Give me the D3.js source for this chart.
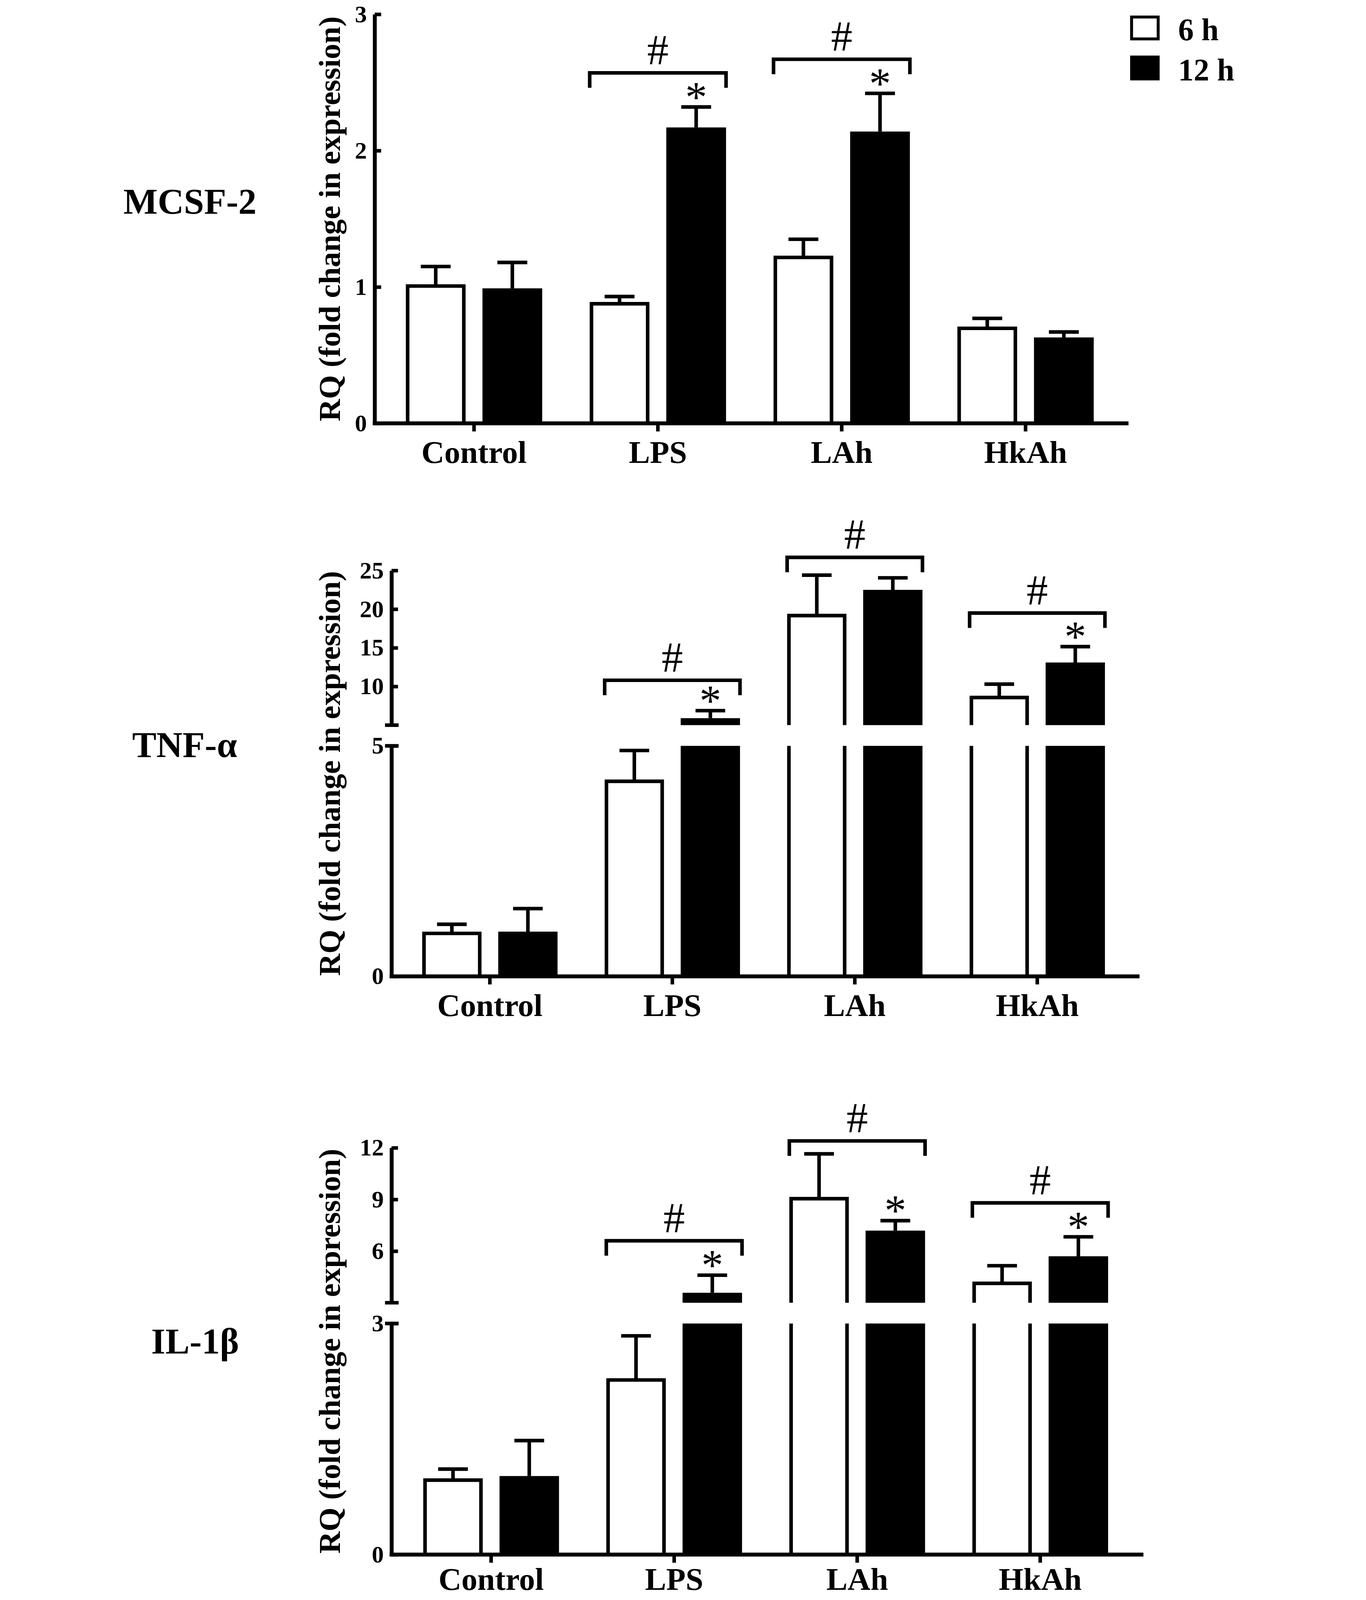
<!DOCTYPE html>
<html>
<head>
<meta charset="utf-8">
<script src="https://cdn.jsdelivr.net/npm/d3@7"></script>
<style>
html,body{
margin:0;
padding:0;
overflow:hidden;
background-color:white;
}
svg{
display:block;
width:100vw;
height:100vh;
font-family:"Liberation Serif","Times New Roman",serif;
}
</style>
</head>
<body>
<div id="chart"></div>
<script>
// groups and time points
var categories = ["Control","LPS","LAh","HkAh"]
var series = ["6 h","12 h"]

// MCSF-2 (mean, SEM)
var mcsfMean6h = [1.02,0.89,1.23,0.71]
var mcsfSem6h = [0.13,0.04,0.12,0.06]
var mcsfMean12h = [0.99,2.17,2.14,0.63]
var mcsfSem12h = [0.19,0.15,0.28,0.04]
var mcsfTicks = [0,1,2,3]
var mcsfHash = ["LPS","LAh"]
var mcsfHashAt = [2.57,2.67]
var mcsfStar = ["LPS","LAh"]

// TNF-a (broken axis 0-5 / 5-25)
var tnfMean6h = [0.97,4.27,19.4,8.8]
var tnfSem6h = [0.16,0.63,5.0,1.5]
var tnfMean12h = [0.97,5.9,22.5,13.1]
var tnfSem12h = [0.50,0.97,1.55,2.05]
var tnfTicksLow = [0,5]
var tnfTicksHigh = [10,15,20,25]
var tnfHash = ["LPS","LAh","HkAh"]
var tnfHashAt = [10.8,26.7,19.5]
var tnfStar = ["LPS","HkAh"]

// IL-1b (broken axis 0-3 / 3-12)
var ilMean6h = [0.99,2.29,9.15,4.23]
var ilSem6h = [0.12,0.55,2.5,0.92]
var ilMean12h = [1.02,3.58,7.19,5.70]
var ilSem12h = [0.46,1.02,0.58,1.13]
var ilTicksLow = [0,3]
var ilTicksHigh = [6,9,12]
var ilHash = ["LPS","LAh","HkAh"]
var ilHashAt = [6.6,12.4,8.8]
var ilStar = ["LPS","LAh","HkAh"]

var W = 3496
var H = 4936
var lineW = 11
var ink = "black"

var panels = [
{gene:"MCSF-2",geneX:22,geneY:659,axisX:797,axisEnd:3122,band:[820,3088],labelPad:28,
 mean:[mcsfMean6h,mcsfMean12h],sem:[mcsfSem6h,mcsfSem12h],
 hash:mcsfHash,hashAt:mcsfHashAt,star:mcsfStar,
 segs:[{domain:[0,3],range:[1306,44],ticks:mcsfTicks}]},
{gene:"TNF-α",geneX:49,geneY:2335,axisX:849,axisEnd:3156,band:[871,3122],labelPad:28,
 mean:[tnfMean6h,tnfMean12h],sem:[tnfSem6h,tnfSem12h],
 hash:tnfHash,hashAt:tnfHashAt,star:tnfStar,
 segs:[{domain:[0,5],range:[3012,2301],ticks:tnfTicksLow},
       {domain:[5,25],range:[2237,1760],ticks:tnfTicksHigh}]},
{gene:"IL-1β",geneX:108,geneY:4176,axisX:849,axisEnd:3168,band:[874,3132],labelPad:14,
 mean:[ilMean6h,ilMean12h],sem:[ilSem6h,ilSem12h],
 hash:ilHash,hashAt:ilHashAt,star:ilStar,
 segs:[{domain:[0,3],range:[4796,4083],ticks:ilTicksLow},
       {domain:[3,12],range:[4019,3541],ticks:ilTicksHigh}]}
]

// the window may be shorter than the figure, so the svg scales to fit it
var svg = d3.select("#chart")
.append("svg")
.attr("viewBox","0 0 "+W+" "+H)
.attr("preserveAspectRatio","xMidYMid meet")

svg.append("rect").attr("width",W).attr("height",H).attr("fill","white")

panels.forEach(function(p){ drawPanel(p) })
drawLegend()

// pick the axis segment a value falls in
function yOf(p,v){
for(var s=0;s<p.segs.length;s++){
if(v<=p.segs[s].domain[1]) return p.segs[s].scale(v)
}
return p.segs[p.segs.length-1].scale(v)
}

function drawPanel(p){
var g = svg.append("g")

p.segs.forEach(function(s){
s.scale = d3.scaleLinear().domain(s.domain).range(s.range)
})

var x = d3.scaleBand().domain(categories).range(p.band).paddingInner(0).paddingOuter(0)
var xs = d3.scaleBand().domain(series).range([0,x.bandwidth()]).paddingInner(0.22).paddingOuter(0.31)
var bw = xs.bandwidth()
var y0 = p.segs[0].range[0]

// bars
series.forEach(function(ser,j){
var vals = p.mean[j]
var bars = g.selectAll(".bar"+j)
.data(vals)
.enter()
.append("g")
bars.each(function(v,i){
var left = x(categories[i])+xs(ser)
var node = d3.select(this)
p.segs.forEach(function(s,k){
var lo = s.domain[0], hi = s.domain[1]
var last = k==p.segs.length-1
if(v<=lo) return
var top = last ? v : Math.min(v,hi)
var clipped = !last && v>hi
var yt = s.scale(top), yb = s.scale(lo)
if(j==1){
node.append("rect")
.attr("x",left).attr("y",yt)
.attr("width",bw).attr("height",yb-yt)
.attr("fill",ink)
}else{
var l = left+lineW/2, r = left+bw-lineW/2
var t = clipped ? yt : yt+lineW/2
node.append("rect")
.attr("x",l).attr("y",t)
.attr("width",r-l).attr("height",yb-t)
.attr("fill","white")
var d = clipped ?
"M"+l+","+yb+"V"+t+"M"+r+","+t+"V"+yb :
"M"+l+","+yb+"V"+t+"H"+r+"V"+yb
node.append("path")
.attr("d",d)
.attr("fill","none")
.attr("stroke",ink)
.attr("stroke-width",lineW)
}
})
})
})

// error bars (upper side only)
series.forEach(function(ser,j){
p.mean[j].forEach(function(v,i){
var cx = x(categories[i])+xs(ser)+bw/2
var yTop = yOf(p,v)+(j==0?lineW/2:0)
var yErr = yOf(p,v+p.sem[j][i])
g.append("line")
.attr("x1",cx).attr("x2",cx)
.attr("y1",yTop).attr("y2",yErr)
.attr("stroke",ink).attr("stroke-width",lineW)
g.append("line")
.attr("x1",cx-bw/4).attr("x2",cx+bw/4)
.attr("y1",yErr).attr("y2",yErr)
.attr("stroke",ink).attr("stroke-width",lineW)
})
})

// y axis, one piece per segment
p.segs.forEach(function(s,k){
var ax = g.append("g")
.attr("transform","translate("+p.axisX+",0)")
.call(d3.axisLeft(s.scale).tickValues(s.ticks).tickFormat(d3.format("d"))
.tickSizeInner(-20).tickSizeOuter(0).tickPadding(24))
ax.select(".domain").attr("stroke",ink).attr("stroke-width",12)
ax.selectAll(".tick line").attr("stroke",ink).attr("stroke-width",lineW)
ax.selectAll(".tick text")
.attr("fill",ink)
.attr("font-family","Liberation Serif, Times New Roman, serif")
.attr("font-weight","bold")
.attr("font-size",74)
// break marks
if(p.segs.length>1){
var yb = k==0 ? s.range[1] : s.range[0]
g.append("line")
.attr("x1",p.axisX-20).attr("x2",p.axisX+22)
.attr("y1",yb).attr("y2",yb)
.attr("stroke",ink).attr("stroke-width",lineW)
}
})

// x axis
var xa = g.append("g")
.attr("transform","translate(0,"+y0+")")
.call(d3.axisBottom(x).tickSizeInner(25).tickSizeOuter(0).tickPadding(p.labelPad))
xa.select(".domain").remove()
xa.selectAll(".tick line").attr("stroke",ink).attr("stroke-width",lineW)
xa.selectAll(".tick text")
.attr("fill",ink)
.attr("font-family","Liberation Serif, Times New Roman, serif")
.attr("font-weight","bold")
.attr("font-size",98)
g.append("line")
.attr("x1",p.axisX-6).attr("x2",p.axisEnd)
.attr("y1",y0).attr("y2",y0)
.attr("stroke",ink).attr("stroke-width",12)

// y title
var yTopAll = p.segs[p.segs.length-1].range[1]
g.append("text")
.attr("transform","translate(690,"+((y0+yTopAll)/2)+") rotate(-90)")
.attr("text-anchor","middle")
.attr("font-weight","bold")
.attr("font-size",95)
.attr("fill",ink)
.text("RQ (fold change in expression)")

// gene name
g.append("text")
.attr("x",p.geneX).attr("y",p.geneY)
.attr("font-weight","bold")
.attr("font-size",112)
.attr("fill",ink)
.text(p.gene)

// # brackets between 6 h and 12 h
p.hash.forEach(function(cat,k){
var yb = yOf(p,p.hashAt[k])
var l = x(cat)+xs("6 h")
var r = x(cat)+xs("12 h")+bw
g.append("path")
.attr("d","M"+l+","+(yb+46)+"V"+yb+"H"+r+"V"+(yb+46))
.attr("fill","none")
.attr("stroke",ink)
.attr("stroke-width",lineW)
g.append("text")
.attr("x",(l+r)/2).attr("y",yb-26)
.attr("text-anchor","middle")
.attr("font-size",132)
.attr("fill",ink)
.text("#")
})

// * over the 12 h bar
p.star.forEach(function(cat){
var i = categories.indexOf(cat)
var cx = x(cat)+xs("12 h")+bw/2
var ye = yOf(p,p.mean[1][i]+p.sem[1][i])
g.append("text")
.attr("x",cx).attr("y",ye+14)
.attr("text-anchor","middle")
.attr("font-size",135)
.attr("fill",ink)
.text("*")
})
}

function drawLegend(){
var lg = svg.append("g")
var ly = d3.scaleBand().domain(series).range([48,248]).paddingInner(0.38)
series.forEach(function(ser,j){
var yy = ly(ser)
lg.append("rect")
.attr("x",3131.5).attr("y",yy+4.5)
.attr("width",82).attr("height",ly.bandwidth()-9)
.attr("fill",j==0?"white":ink)
.attr("stroke",ink)
.attr("stroke-width",9)
lg.append("text")
.attr("x",3275).attr("y",yy+ly.bandwidth())
.attr("font-weight","bold")
.attr("font-size",96)
.attr("fill",ink)
.text(ser)
})
}
</script>
</body>
</html>
